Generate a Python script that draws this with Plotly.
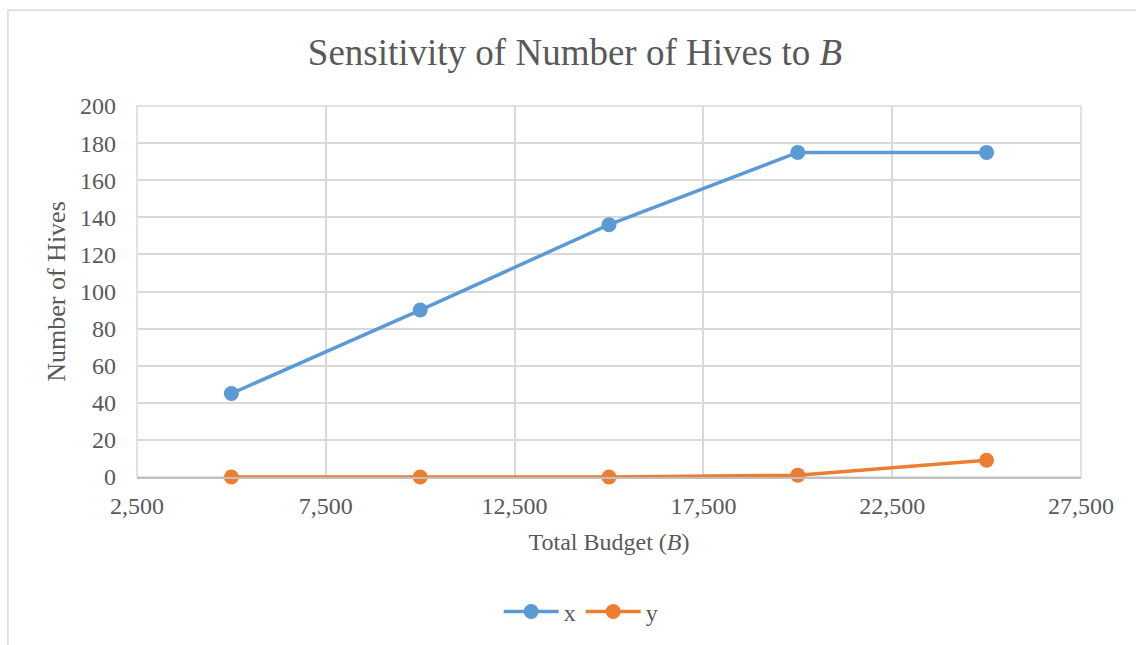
import plotly.graph_objects as go

# Total budget levels and the resulting hive counts
budget = [5000, 10000, 15000, 20000, 25000]
x_hives = [45, 90, 136, 175, 175]
y_hives = [0, 0, 0, 1, 9]

x_ticks = [2500, 7500, 12500, 17500, 22500, 27500]

FONT = "Liberation Serif, Times New Roman, serif"
TEXT = "#595959"
GRID = "#D9D9D9"

fig = go.Figure()
fig.add_trace(go.Scatter(
    x=budget, y=x_hives, name="x", mode="lines+markers", cliponaxis=False,
    line=dict(color="#5B9BD5", width=3.5),
    marker=dict(size=15, color="#5B9BD5"),
))
fig.add_trace(go.Scatter(
    x=budget, y=y_hives, name="y", mode="lines+markers", cliponaxis=False,
    line=dict(color="#ED7D31", width=3.5),
    marker=dict(size=15, color="#ED7D31"),
))

fig.update_layout(
    width=1136, height=645,
    margin=dict(l=137, r=55, t=106, b=167),
    paper_bgcolor="white", plot_bgcolor="white",
    font=dict(family=FONT, color=TEXT, size=24),
    title=dict(
        text="Sensitivity of Number of Hives to <i>B</i>",
        font=dict(family=FONT, size=37, color=TEXT),
        x=0.464, xanchor="center", xref="paper",
        y=0.919, yanchor="middle",
    ),
    xaxis=dict(
        range=[2500, 27500], tickvals=x_ticks, tickformat=",",
        showgrid=True, gridcolor=GRID, gridwidth=1.5,
        showline=True, linecolor="#BFBFBF", linewidth=1.5, mirror=False,
        zeroline=False, ticks="", ticklen=0, ticklabelstandoff=6,
        title=dict(text="Total Budget (<i>B</i>)", font=dict(size=24), standoff=16),
        tickfont=dict(size=24),
    ),
    yaxis=dict(
        range=[0, 200], dtick=20,
        showgrid=True, gridcolor=GRID, gridwidth=1.5,
        showline=False, zeroline=False, ticks="", ticklen=0, ticklabelstandoff=20,
        title=dict(text="Number of Hives", font=dict(size=26), standoff=6),
        tickfont=dict(size=24),
    ),
    legend=dict(
        orientation="h", x=0.47, xanchor="center", y=-0.36, yanchor="middle",
        font=dict(size=24), itemwidth=55, tracegroupgap=0,
    ),
    showlegend=True,
    shapes=[
        # frame around the plotting area
        dict(type="rect", xref="paper", yref="paper", x0=0, x1=1, y0=0, y1=1,
             line=dict(color=GRID, width=1.5), layer="below"),
        # outer chart border
        dict(type="rect", xref="paper", yref="paper", x0=-0.1367, x1=1.2,
             y0=-0.6, y1=1.258, line=dict(color=GRID, width=1.5)),
    ],
)

fig.write_html("out.html")
